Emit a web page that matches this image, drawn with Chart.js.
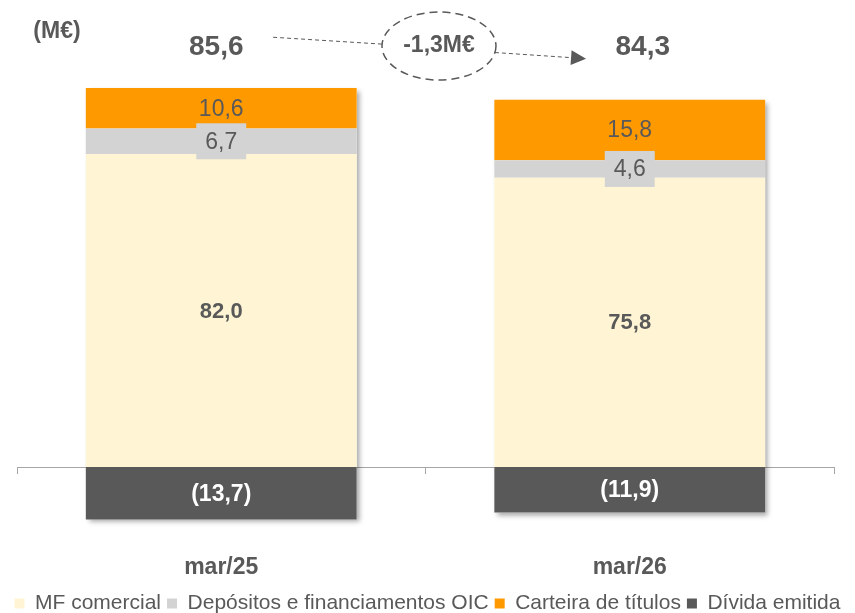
<!DOCTYPE html>
<html>
<head>
<meta charset="utf-8">
<script src="https://cdn.jsdelivr.net/npm/chart.js@4.4.1/dist/chart.umd.min.js"></script>
<style>
html, body { margin: 0; padding: 0; background: #fff; }
</style>
</head>
<body>
<canvas id="grafico" width="855" height="613"></canvas>
<script>
// valores em M€
var categorias = ["mar/25", "mar/26"];
var mfComercial = [82.0, 75.8];
var depositosOIC = [6.7, 4.6];
var carteiraTitulos = [10.6, 15.8];
var dividaEmitida = [-13.7, -11.9];

var cinza = '#595959';
var fonte = '"Liberation Sans", Arial, sans-serif';
Chart.defaults.font.family = fonte;
Chart.defaults.color = cinza;

function fmt(v) {
    var s = Math.abs(v).toFixed(1).replace('.', ',');
    return v < 0 ? '(' + s + ')' : s;
}

function totais(chart) {
    return chart.data.labels.map(function(l, i) {
        var t = 0;
        chart.data.datasets.forEach(function(ds) { t += ds.data[i]; });
        return t;
    });
}

// sombra atras de cada coluna
var sombraPlugin = {
    id: 'sombra',
    beforeDatasetsDraw: function(chart) {
        var ctx = chart.ctx;
        ctx.save();
        ctx.shadowColor = 'rgba(0,0,0,0.35)';
        ctx.shadowBlur = 5;
        ctx.shadowOffsetX = 3;
        ctx.shadowOffsetY = 3;
        ctx.fillStyle = '#fff';
        chart.data.labels.forEach(function(l, i) {
            var top = Infinity, bottom = -Infinity, left = 0, right = 0;
            chart.data.datasets.forEach(function(ds, d) {
                var el = chart.getDatasetMeta(d).data[i];
                top = Math.min(top, el.y, el.base);
                bottom = Math.max(bottom, el.y, el.base);
                left = el.x - el.width / 2;
                right = el.x + el.width / 2;
            });
            ctx.fillRect(left, top, right - left, bottom - top);
        });
        ctx.restore();
    }
};

var rotulosPlugin = {
    id: 'rotulos',
    afterDatasetsDraw: function(chart, args, opts) {
        var ctx = chart.ctx;
        var xs = chart.scales.x, ys = chart.scales.y;
        ctx.save();
        ctx.textAlign = 'center';
        ctx.textBaseline = 'middle';

        // valores dentro das barras (ordem inversa: caixas cinza por cima)
        for (var d = chart.data.datasets.length - 1; d >= 0; d--) {
            var ds = chart.data.datasets[d];
            var r = ds.rotulo;
            chart.getDatasetMeta(d).data.forEach(function(el, i) {
                var txt = fmt(ds.data[i]);
                var cy = (el.y + el.base) / 2;
                ctx.font = r.font;
                if (r.caixa) {
                    var w = ctx.measureText(txt).width + 18;
                    ctx.fillStyle = ds.backgroundColor;
                    ctx.fillRect(el.x - w / 2, cy - 18, w, 36);
                }
                ctx.fillStyle = r.cor;
                ctx.fillText(txt, el.x, cy + 1);
            });
        }

        // totais
        var t = totais(chart);
        ctx.font = 'bold 28px ' + fonte;
        ctx.fillStyle = cinza;
        t.forEach(function(v, i) {
            ctx.fillText(fmt(v), xs.getPixelForValue(i) + opts.totalDx[i], ys.getPixelForValue(opts.totalY));
        });

        // unidade
        ctx.font = 'bold 23px ' + fonte;
        ctx.fillText('(M€)', chart.chartArea.left + 40, 32);

        // seta tracejada e elipse com a variacao
        function p(pt) { return [xs.getPixelForValue(pt[0]), ys.getPixelForValue(pt[1])]; }
        ctx.strokeStyle = cinza;
        ctx.lineWidth = 1;
        ctx.setLineDash([4, 3]);
        var a = p(opts.linha1[0]), b = p(opts.linha1[1]);
        ctx.beginPath(); ctx.moveTo(a[0], a[1]); ctx.lineTo(b[0], b[1]); ctx.stroke();
        a = p(opts.linha2[0]); b = p(opts.linha2[1]);
        var dx = b[0] - a[0], dy = b[1] - a[1], len = Math.sqrt(dx * dx + dy * dy);
        var ux = dx / len, uy = dy / len;
        ctx.beginPath(); ctx.moveTo(a[0], a[1]); ctx.lineTo(b[0] - ux * 14, b[1] - uy * 14); ctx.stroke();
        ctx.setLineDash([]);
        ctx.fillStyle = cinza;
        ctx.beginPath();
        ctx.moveTo(b[0], b[1]);
        ctx.lineTo(b[0] - ux * 15 - uy * 7.5, b[1] - uy * 15 + ux * 7.5);
        ctx.lineTo(b[0] - ux * 15 + uy * 7.5, b[1] - uy * 15 - ux * 7.5);
        ctx.closePath();
        ctx.fill();

        var c = p(opts.elipse.c);
        ctx.setLineDash([8, 5]);
        ctx.lineWidth = 1.5;
        ctx.beginPath();
        ctx.ellipse(c[0], c[1], opts.elipse.rx, opts.elipse.ry, 0, 0, Math.PI * 2);
        ctx.stroke();
        ctx.setLineDash([]);
        var dif = t[1] - t[0];
        ctx.font = 'bold 23px ' + fonte;
        ctx.fillText((dif < 0 ? '-' : '+') + Math.abs(dif).toFixed(1).replace('.', ',') + 'M€', c[0], c[1]);
        ctx.restore();
    }
};

new Chart(document.getElementById('grafico'), {
    type: 'bar',
    data: {
        labels: categorias,
        datasets: [
            {
                label: 'MF comercial',
                data: mfComercial,
                backgroundColor: '#FFF5D4',
                rotulo: { font: 'bold 22px ' + fonte, cor: cinza }
            },
            {
                label: 'Depósitos e financiamentos OIC',
                data: depositosOIC,
                backgroundColor: '#D3D3D3',
                rotulo: { font: '23px ' + fonte, cor: cinza, caixa: true }
            },
            {
                label: 'Carteira de títulos',
                data: carteiraTitulos,
                backgroundColor: '#FF9900',
                rotulo: { font: '23px ' + fonte, cor: cinza, caixa: true }
            },
            {
                label: 'Dívida emitida',
                data: dividaEmitida,
                backgroundColor: '#595959',
                rotulo: { font: 'bold 23px ' + fonte, cor: '#ffffff' }
            }
        ]
    },
    options: {
        responsive: false,
        animation: false,
        layout: { padding: { top: 9, bottom: -11, left: 0, right: 0 } },
        datasets: { bar: { barPercentage: 1, categoryPercentage: 0.663, borderWidth: 0 } },
        scales: {
            x: {
                stacked: true,
                position: { y: 0 },
                grid: { drawOnChartArea: false, drawTicks: true, tickLength: 6, color: '#a6a6a6', offset: true },
                border: { color: '#a6a6a6', width: 1 },
                ticks: { padding: 81, color: cinza, font: { size: 23, weight: 'bold' } }
            },
            y: {
                stacked: true,
                min: -31.4,
                max: 120,
                grid: { display: false },
                border: { display: false },
                ticks: { display: false },
                afterFit: function(s) { s.width = 17; }
            },
            yr: {
                position: 'right',
                grid: { display: false },
                border: { display: false },
                ticks: { display: false },
                afterFit: function(s) { s.width = 21; }
            }
        },
        plugins: {
            legend: {
                position: 'bottom',
                labels: { boxWidth: 10, boxHeight: 10, padding: 6, color: cinza, font: { size: 21 } }
            },
            tooltip: { enabled: false },
            rotulos: {
                totalY: 110,
                totalDx: [-5, 13],
                linha1: [[0.127, 112.6], [0.394, 110.8]],
                linha2: [[0.670, 108.6], [0.893, 107.0]],
                elipse: { c: [0.533, 110.3], rx: 57, ry: 34 }
            }
        }
    },
    plugins: [sombraPlugin, rotulosPlugin]
});
</script>
</body>
</html>
